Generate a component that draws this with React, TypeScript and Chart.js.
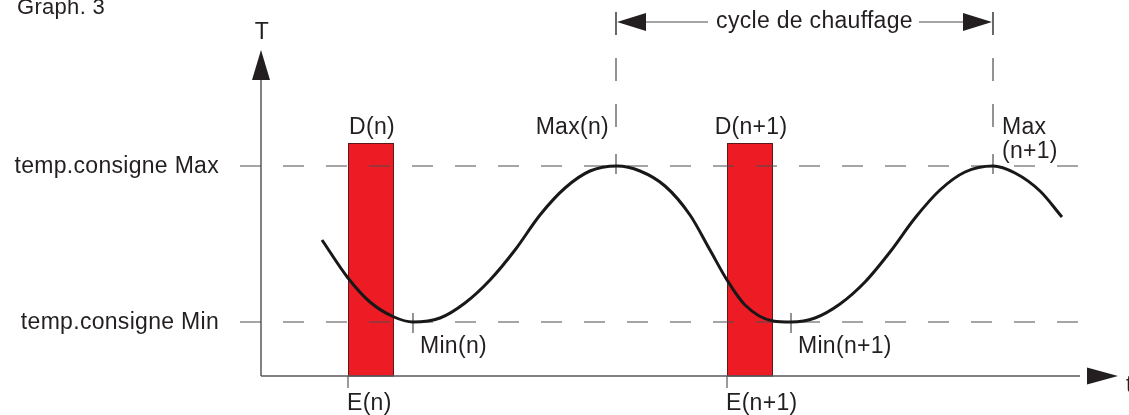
import React, { useEffect, useRef } from "react";
import { Chart, registerables } from "chart.js";

Chart.register(...registerables);

// ---- data (time units / temperature units) ----
const timeValues = [61, 87, 109, 133, 152, 179, 204, 229, 254, 279, 304, 329, 356, 379, 404, 429, 449, 466, 484, 512, 530, 554, 579, 604, 629, 654, 679, 704, 732, 754, 779, 801];
const tempValues = [136, 98, 74, 59, 54, 58, 73, 96, 126, 161, 188, 205, 210, 205, 190, 161, 126, 96, 71, 55, 54, 58, 72, 94, 124, 158, 186, 204, 210, 203, 185, 159];

const levelMax = 210;
const levelMin = 54;
const levelLabels = ["temp.consigne Max", "temp.consigne Min"];

const heatStart = [87, 466];
const heatEnd = [133, 512];
const heatTop = 233;
const heatLabels = ["D(n)", "D(n+1)"];
const startLabels = ["E(n)", "E(n+1)"];

const maxTimes = [355, 732];
const maxLabels = ["Max(n)", "Max\n(n+1)"];
const minTimes = [152, 530];
const minLabels = ["Min(n)", "Min(n+1)"];

const cycleLabel = "cycle de chauffage";
const title = "Graph. 3";
const yAxisLabel = "T";
const xAxisLabel = "t";

const TEXT = "#231f20";
const LINE = "#58595b";
const FONT = '"Liberation Sans", Arial, sans-serif';

function setFont(ctx: CanvasRenderingContext2D, size: number) {
  ctx.font = `${size}px ${FONT}`;
  (ctx as any).letterSpacing = "0.3px";
  ctx.fillStyle = TEXT;
}

const diagramPlugin = {
  id: "diagram",
  beforeDatasetsDraw(chart: any) {
    const ctx: CanvasRenderingContext2D = chart.ctx;
    const xs = chart.scales.x;
    const ys = chart.scales.y;
    const X = (v: number) => xs.getPixelForValue(v);
    const Y = (v: number) => ys.getPixelForValue(v);
    const x0 = X(0);
    const y0 = Y(0);
    ctx.save();

    // heating bars
    for (let i = 0; i < heatStart.length; i++) {
      const l = X(heatStart[i]);
      const r = X(heatEnd[i]);
      const t = Y(heatTop);
      ctx.fillStyle = "#ed1c24";
      ctx.fillRect(l, t, r - l, y0 - t);
      ctx.strokeStyle = "#5a1a1c";
      ctx.lineWidth = 1;
      ctx.strokeRect(l + 0.5, t + 0.5, r - l - 1, y0 - t - 0.5);
    }

    // axes
    ctx.strokeStyle = LINE;
    ctx.lineWidth = 1.5;
    ctx.beginPath();
    ctx.moveTo(x0, y0);
    ctx.lineTo(x0, ys.top + 24);
    ctx.moveTo(x0, y0);
    ctx.lineTo(xs.right - 30, y0);
    ctx.stroke();
    ctx.fillStyle = TEXT;
    ctx.beginPath();
    ctx.moveTo(x0, ys.top - 6);
    ctx.lineTo(x0 - 9, ys.top + 24);
    ctx.lineTo(x0 + 9, ys.top + 24);
    ctx.closePath();
    ctx.fill();
    ctx.beginPath();
    ctx.moveTo(xs.right + 8, y0);
    ctx.lineTo(xs.right - 23, y0 - 8.5);
    ctx.lineTo(xs.right - 23, y0 + 8.5);
    ctx.closePath();
    ctx.fill();

    // start ticks below the axis
    ctx.strokeStyle = LINE;
    ctx.lineWidth = 1.2;
    ctx.beginPath();
    for (const s of heatStart) {
      ctx.moveTo(X(s), y0);
      ctx.lineTo(X(s), y0 + 12);
    }
    ctx.stroke();

    // dashed set-point levels
    ctx.strokeStyle = "#4d4d4f";
    ctx.lineWidth = 1.2;
    ctx.setLineDash([21, 22]);
    for (const lv of [levelMax, levelMin]) {
      ctx.beginPath();
      ctx.moveTo(x0 - 21, Y(lv));
      ctx.lineTo(xs.right - 30, Y(lv));
      ctx.stroke();
    }
    // dashed verticals at the maxima
    ctx.setLineDash([23, 23]);
    for (const m of maxTimes) {
      ctx.beginPath();
      ctx.moveTo(X(m), 12);
      ctx.lineTo(X(m), 130);
      ctx.stroke();
    }
    ctx.setLineDash([]);

    // crosses at extrema
    ctx.beginPath();
    for (const m of maxTimes) {
      ctx.moveTo(X(m), Y(levelMax) - 12);
      ctx.lineTo(X(m), Y(levelMax) + 8);
    }
    for (const m of minTimes) {
      ctx.moveTo(X(m), Y(levelMin) - 9);
      ctx.lineTo(X(m), Y(levelMin) + 11);
    }
    ctx.stroke();

    // cycle arrow
    const a = X(maxTimes[0]);
    const b = X(maxTimes[1]);
    const ay = 22;
    ctx.beginPath();
    ctx.moveTo(a, 12);
    ctx.lineTo(a, 35);
    ctx.moveTo(b, 12);
    ctx.lineTo(b, 35);
    ctx.moveTo(a + 28, ay);
    ctx.lineTo(a + 92, ay);
    ctx.moveTo(b - 74, ay);
    ctx.lineTo(b - 28, ay);
    ctx.stroke();
    ctx.fillStyle = TEXT;
    ctx.beginPath();
    ctx.moveTo(a + 1, ay);
    ctx.lineTo(a + 30, ay - 9);
    ctx.lineTo(a + 30, ay + 9);
    ctx.closePath();
    ctx.fill();
    ctx.beginPath();
    ctx.moveTo(b - 1, ay);
    ctx.lineTo(b - 30, ay - 9);
    ctx.lineTo(b - 30, ay + 9);
    ctx.closePath();
    ctx.fill();

    ctx.restore();
  },
  afterDatasetsDraw(chart: any) {
    const ctx: CanvasRenderingContext2D = chart.ctx;
    const xs = chart.scales.x;
    const ys = chart.scales.y;
    const X = (v: number) => xs.getPixelForValue(v);
    const Y = (v: number) => ys.getPixelForValue(v);
    const x0 = X(0);
    const y0 = Y(0);
    ctx.save();
    ctx.textBaseline = "alphabetic";

    setFont(ctx, 22);
    ctx.textAlign = "left";
    ctx.fillText(title, 17, 14);

    setFont(ctx, 23);
    ctx.textAlign = "center";
    ctx.fillText(yAxisLabel, x0 + 1, 39);
    ctx.textAlign = "left";
    ctx.fillText(xAxisLabel, xs.right + 16, y0 + 16);

    ctx.textAlign = "right";
    ctx.fillText(levelLabels[0], x0 - 42, Y(levelMax) + 7);
    ctx.fillText(levelLabels[1], x0 - 42, Y(levelMin) + 7);

    ctx.textAlign = "center";
    for (let i = 0; i < heatLabels.length; i++) {
      const c = (X(heatStart[i]) + X(heatEnd[i])) / 2;
      ctx.fillText(heatLabels[i], c + 1, Y(heatTop) - 9);
    }
    ctx.textAlign = "left";
    for (let i = 0; i < startLabels.length; i++) {
      ctx.fillText(startLabels[i], X(heatStart[i]) - 1, y0 + 34);
    }
    for (let i = 0; i < minLabels.length; i++) {
      ctx.fillText(minLabels[i], X(minTimes[i]) + 7, Y(levelMin) + 31);
    }
    ctx.textAlign = "right";
    ctx.fillText(maxLabels[0], X(maxTimes[0]) - 7, 134);
    ctx.textAlign = "left";
    const parts = maxLabels[1].split("\n");
    ctx.fillText(parts[0], X(maxTimes[1]) + 9, 134);
    ctx.fillText(parts[1], X(maxTimes[1]) + 9, 158);

    ctx.textAlign = "center";
    ctx.fillText(cycleLabel, (X(maxTimes[0]) + X(maxTimes[1])) / 2 + 10, 28);

    ctx.restore();
  },
};

export default function App() {
  const ref = useRef<HTMLCanvasElement | null>(null);
  useEffect(() => {
    document.body.style.margin = "0";
    const canvas = ref.current;
    if (!canvas) return;
    const chart = new Chart(canvas, {
      type: "line",
      data: {
        datasets: [
          {
            data: timeValues.map((t, i) => ({ x: t, y: tempValues[i] })),
            borderColor: "#1a1718",
            borderWidth: 3,
            pointRadius: 0,
            cubicInterpolationMode: "monotone",
            fill: false,
          },
        ],
      },
      options: {
        animation: false,
        responsive: false,
        maintainAspectRatio: false,
        devicePixelRatio: 1,
        layout: { padding: { left: 261, right: 19, top: 56, bottom: 39 } },
        plugins: { legend: { display: false }, tooltip: { enabled: false }, title: { display: false } },
        scales: {
          x: { type: "linear", min: 0, max: 849, display: false },
          y: { type: "linear", min: 0, max: 320, display: false },
        },
      },
      plugins: [diagramPlugin],
    } as any);
    return () => chart.destroy();
  }, []);
  return (
    <div style={{ position: "absolute", left: 0, top: 0, width: 1129, height: 415, background: "#fff" }}>
      <canvas ref={ref} width={1129} height={415} style={{ display: "block", width: 1129, height: 415 }} />
    </div>
  );
}
